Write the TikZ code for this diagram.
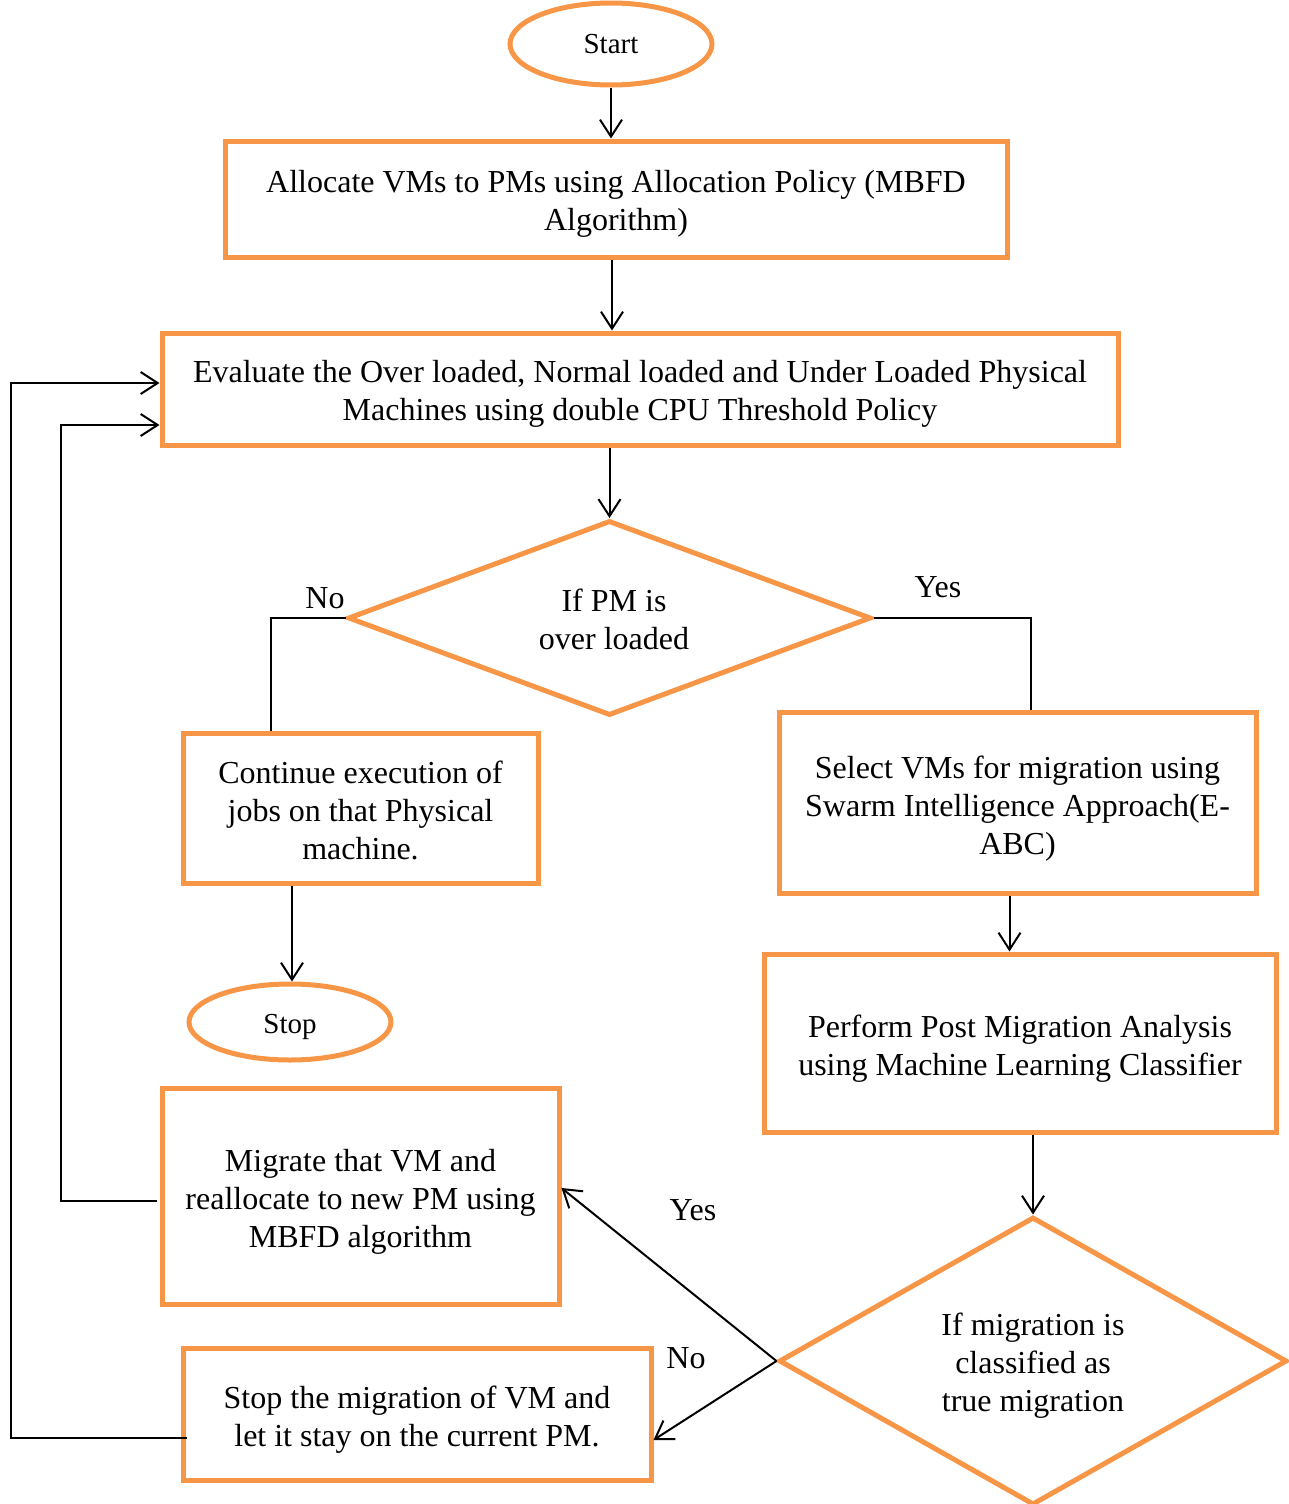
\documentclass[tikz,border=0pt]{standalone}
\usepackage{fontspec}
\setmainfont{Liberation Serif}
\usetikzlibrary{shapes.geometric,arrows.meta}
\definecolor{boxorange}{HTML}{F79646}
\begin{document}
\begin{tikzpicture}[x=1pt,y=-1pt,
  every node/.style={font=\fontsize{32}{38}\selectfont, align=center},
  procbox/.style={draw=boxorange, line width=5pt, rectangle, inner sep=0pt},
  term/.style={draw=boxorange, line width=5pt, ellipse, inner sep=0pt},
  decision/.style={draw=boxorange, line width=5pt, diamond, inner sep=0pt},
  termtext/.style={font=\fontsize{29}{34}\selectfont, inner sep=0pt},
  boxtext/.style={inner sep=0pt},
  link/.style={draw=black, line width=2pt},
  arr/.style={link, -{Straight Barb[length=17pt,width=22pt,line width=2pt]}},
  lbl/.style={inner sep=0pt}
]
\useasboundingbox (0,0) rectangle (1289,1504);

% terminals
\node[term, minimum width=202pt, minimum height=82pt] (start) at (611,44) {};
\node[termtext] at (start.center) {Start};
\node[term, minimum width=202pt, minimum height=76pt] (stop) at (290,1022) {};
\node[termtext] at ([yshift=-5pt]stop.center) {Stop};

% process boxes
\node[procbox, minimum width=782pt, minimum height=116pt] (alloc) at (616,199) {};
\node[boxtext] at ([yshift=-5pt]alloc.center)
  {Allocate VMs to PMs using Allocation Policy (MBFD\\Algorithm)};
\node[procbox, minimum width=956pt, minimum height=112pt] (eval) at (640,389) {};
\node[boxtext] at ([yshift=-5pt]eval.center)
  {Evaluate the Over loaded, Normal loaded and Under Loaded Physical\\Machines using double CPU Threshold Policy};
\node[procbox, minimum width=355pt, minimum height=150pt] (cont) at (360.5,808) {};
\node[boxtext] at ([yshift=-2pt]cont.center)
  {Continue execution of\\jobs on that Physical\\machine.};
\node[procbox, minimum width=477pt, minimum height=181pt] (sel) at (1017.5,802.5) {};
\node[boxtext] at ([yshift=-6pt]sel.center)
  {Select VMs for migration using\\Swarm Intelligence Approach(E-\\ABC)};
\node[procbox, minimum width=512pt, minimum height=178pt] (perf) at (1020,1043) {};
\node[boxtext] at ([yshift=-6pt]perf.center)
  {Perform Post Migration Analysis\\using Machine Learning Classifier};
\node[procbox, minimum width=397pt, minimum height=216pt] (migr) at (360.5,1196) {};
\node[boxtext] at ([yshift=-6pt]migr.center)
  {Migrate that VM and\\reallocate to new PM using\\MBFD algorithm};
\node[procbox, minimum width=468pt, minimum height=132pt] (smig) at (417,1414) {};
\node[boxtext] at ([yshift=-6pt]smig.center)
  {Stop the migration of VM and\\let it stay on the current PM.};

% decisions
\node[decision, minimum width=523pt, minimum height=195pt] (over) at (609.5,618) {};
\node[boxtext] at ([xshift=4.5pt,yshift=-1pt]over.center) {If PM is\\over loaded};
\node[decision, minimum width=508pt, minimum height=288pt] (truemig) at (1033,1361) {};
\node[boxtext] at ([yshift=-5pt]truemig.center) {If migration is\\classified as\\true migration};

% main flow
\draw[arr] (start.south) -- (start.south |- alloc.north);
\draw[arr] (alloc.south -| 612,0) -- (eval.north -| 612,0);
\draw[arr] (eval.south -| over.north) -- (over.north);
\draw[link] (over.west) -| ([xshift=90pt]cont.north west);
\draw[link] (over.east) -| ([xshift=254pt]sel.north west);
\draw[arr] ([xshift=2pt]cont.south -| stop.north) -- ([xshift=2pt]stop.north);
\draw[arr] ([xshift=-8pt]sel.south) -- ([xshift=-8pt]sel.south |- perf.north);
\draw[arr] (perf.south -| truemig.north) -- (truemig.north);
\draw[arr] (truemig.west) -- ([yshift=8pt]migr.east);
\draw[arr] (truemig.west) -- ([yshift=-26pt]smig.east);

% feedback loops
\coordinate (loopA) at (61,0);
\coordinate (loopB) at (11,0);
\coordinate (migrout) at ([xshift=-3pt,yshift=-5pt]migr.west);
\draw[arr] (migrout) -- (migrout -| loopA) |- ([yshift=-36pt]eval.west);
\coordinate (smigout) at ([xshift=6pt,yshift=-24pt]smig.west);
\draw[arr] (smigout) -- (smigout -| loopB) |- ([yshift=6pt]eval.west);

% branch labels
\node[lbl] (noA) at (325,598) {No};
\node[lbl] (yesA) at (938,587) {Yes};
\node[lbl] (yesB) at (693,1210) {Yes};
\node[lbl] (noB) at (686,1358) {No};
\end{tikzpicture}
\end{document}
